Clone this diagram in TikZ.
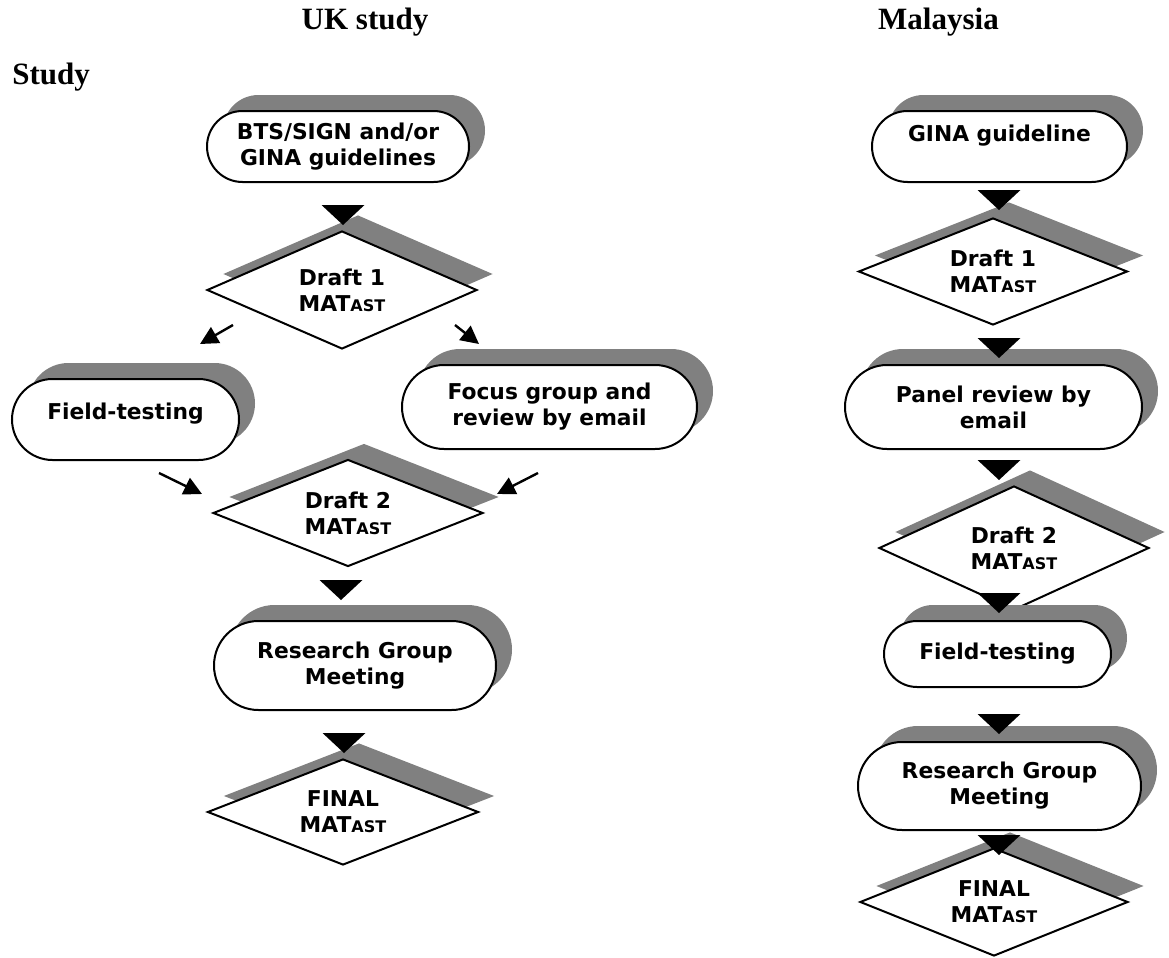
\documentclass[tikz,border=0pt]{standalone}
\usepackage{fontspec}
\setmainfont{Liberation Serif}
\newfontfamily\bxfont{DejaVu Sans}
\usetikzlibrary{shapes.geometric,shapes.misc,shadows,arrows.meta}
\definecolor{shgray}{RGB}{128,128,128}
\newcommand\subAST{{\fontsize{8}{10}\selectfont AST}}
\tikzset{
  sh/.style={drop shadow={shadow xshift=8pt, shadow yshift=8pt, fill=shgray, opacity=1}},
  boxfont/.style={font=\bxfont\bfseries\fontsize{10.9}{13}\selectfont},
  stadium/.style={rounded rectangle, draw=black, line width=1pt, fill=white, sh,
    inner sep=0pt, align=center, boxfont},
  dia/.style={diamond, draw=black, line width=1pt, fill=white, sh, inner sep=0pt,
    aspect=2.5, align=center, boxfont},
  ttl/.style={anchor=base, font=\bfseries\fontsize{15.5}{18}\selectfont},
  arr/.style={line width=1.2pt, -{Triangle[length=9pt,width=9pt]}},
  tri/.pic={\fill[black] (-21.5,0) -- (21.5,0) -- (0,20) -- cycle;},
}
\begin{document}
\begin{tikzpicture}[x=0.5pt,y=-0.5pt]
\useasboundingbox (0,0) rectangle (1169,958);

% titles
\node[ttl] (tuk) at (365,30) {UK study};
\node[ttl] (tmy) at (938.5,30) {Malaysia};
\node[ttl, anchor=base west, inner sep=0pt] (tst) at (12,84) {Study};

% UK column
\node[stadium, minimum width=131pt, minimum height=35.5pt] (bts) at (338,146.5) {BTS/SIGN and/or\\GINA guidelines};
\node[dia, minimum width=135pt, minimum height=59pt] (d1) at (342,290) {Draft 1\\MAT\subAST};
\node[stadium, minimum width=113.5pt, minimum height=40.5pt, text depth=8.2pt] (fld) at (125.5,419.5) {Field-testing};
\node[stadium, minimum width=147.5pt, minimum height=42pt] (foc) at (549.5,407) {Focus group and\\review by email};
\node[dia, minimum width=135pt, minimum height=53.5pt] (d2) at (348,513) {Draft 2\\MAT\subAST};
\node[stadium, minimum width=141pt, minimum height=44.5pt] (rgm) at (355,665.5) {Research Group\\Meeting};
\node[dia, minimum width=135.5pt, minimum height=53pt] (fin) at (343,812) {FINAL\\MAT\subAST};

\coordinate (a1s) at (233,325); \coordinate (a1e) at (200,344);
\coordinate (a2s) at (455,325); \coordinate (a2e) at (479,344);
\coordinate (a3s) at (159,473); \coordinate (a3e) at (202,494);
\coordinate (a4s) at (538,473); \coordinate (a4e) at (497,494);
\draw[arr] (a1s) -- (a1e);
\draw[arr] (a2s) -- (a2e);
\draw[arr] (a3s) -- (a3e);
\draw[arr] (a4s) -- (a4e);

% Malaysia column
\node[stadium, minimum width=127.5pt, minimum height=35.5pt, text depth=13.2pt] (gina) at (999.5,146.5) {GINA guideline};
\node[dia, minimum width=134.5pt, minimum height=53.5pt] (md1) at (993,271.5) {Draft 1\\MAT\subAST};
\node[stadium, minimum width=148.5pt, minimum height=42pt] (pan) at (993.5,407) {Panel review by\\email};
\node[dia, minimum width=135pt, minimum height=62pt] (md2) at (1014,548) {Draft 2\\MAT\subAST};
\node[stadium, minimum width=113.5pt, minimum height=33pt] (mfld) at (997.5,654) {Field-testing};
\node[stadium, minimum width=141.5pt, minimum height=44pt] (mrgm) at (999.5,786) {Research Group\\Meeting};
\node[dia, minimum width=134pt, minimum height=54pt] (mfin) at (994,902) {FINAL\\MAT\subAST};

% flow triangles
\pic (t1) at (343,205) {tri};
\pic (t2) at (341,580) {tri};
\pic (t3) at (344,733) {tri};
\pic (m1) at (999,190) {tri};
\pic (m2) at (999,338) {tri};
\pic (m3) at (999,460) {tri};
\pic (m4) at (999,593) {tri};
\pic (m5) at (999,714) {tri};
\pic (m6) at (999,835) {tri};
\end{tikzpicture}
\end{document}
